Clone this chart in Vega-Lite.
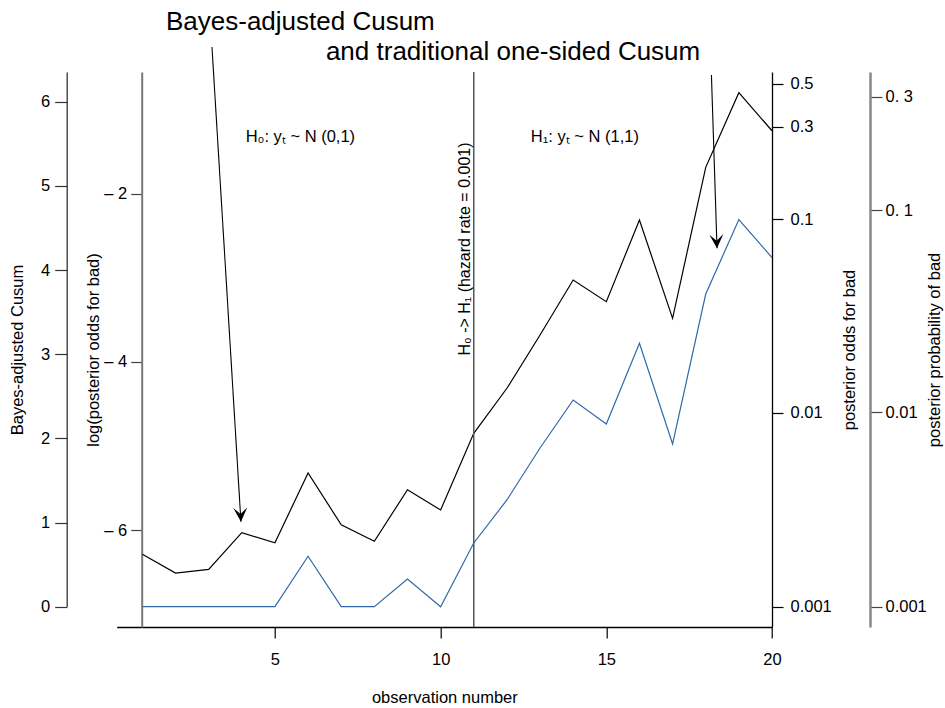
{
  "$schema": "https://vega.github.io/schema/vega-lite/v6.json",
  "width": 655.3,
  "height": 555,
  "autosize": {"type": "none"},
  "padding": {"left": 116.7, "top": 72, "right": 173, "bottom": 81},
  "background": "white",
  "config": {
    "font": "Liberation Sans",
    "view": {"stroke": null},
    "axis": {
      "grid": false,
      "labelFontSize": 16.5,
      "titleFontSize": 16.5,
      "titleFontWeight": "normal",
      "labelColor": "black",
      "titleColor": "black",
      "labelFlush": false,
      "labelOverlap": false,
      "tickWidth": 1.2,
      "domainWidth": 1.3
    }
  },
  "datasets": {
    "lines": [
      {"obs": 1, "series": "bayes", "value": 0.623},
      {"obs": 2, "series": "bayes", "value": 0.400},
      {"obs": 3, "series": "bayes", "value": 0.444},
      {"obs": 4, "series": "bayes", "value": 0.879},
      {"obs": 5, "series": "bayes", "value": 0.760},
      {"obs": 6, "series": "bayes", "value": 1.588},
      {"obs": 7, "series": "bayes", "value": 0.974},
      {"obs": 8, "series": "bayes", "value": 0.777},
      {"obs": 9, "series": "bayes", "value": 1.390},
      {"obs": 10, "series": "bayes", "value": 1.149},
      {"obs": 11, "series": "bayes", "value": 2.060},
      {"obs": 12, "series": "bayes", "value": 2.595},
      {"obs": 13, "series": "bayes", "value": 3.228},
      {"obs": 14, "series": "bayes", "value": 3.881},
      {"obs": 15, "series": "bayes", "value": 3.624},
      {"obs": 16, "series": "bayes", "value": 4.594},
      {"obs": 17, "series": "bayes", "value": 3.426},
      {"obs": 18, "series": "bayes", "value": 5.220},
      {"obs": 19, "series": "bayes", "value": 6.107},
      {"obs": 20, "series": "bayes", "value": 5.655},
      {"obs": 1, "series": "cusum", "value": 0},
      {"obs": 2, "series": "cusum", "value": 0},
      {"obs": 3, "series": "cusum", "value": 0},
      {"obs": 4, "series": "cusum", "value": 0},
      {"obs": 5, "series": "cusum", "value": 0},
      {"obs": 6, "series": "cusum", "value": 0.599},
      {"obs": 7, "series": "cusum", "value": 0},
      {"obs": 8, "series": "cusum", "value": 0},
      {"obs": 9, "series": "cusum", "value": 0.329},
      {"obs": 10, "series": "cusum", "value": 0},
      {"obs": 11, "series": "cusum", "value": 0.757},
      {"obs": 12, "series": "cusum", "value": 1.268},
      {"obs": 13, "series": "cusum", "value": 1.886},
      {"obs": 14, "series": "cusum", "value": 2.456},
      {"obs": 15, "series": "cusum", "value": 2.171},
      {"obs": 16, "series": "cusum", "value": 3.129},
      {"obs": 17, "series": "cusum", "value": 1.933},
      {"obs": 18, "series": "cusum", "value": 3.715},
      {"obs": 19, "series": "cusum", "value": 4.599},
      {"obs": 20, "series": "cusum", "value": 4.148}
    ],
    "arrows": [
      {"x0": 3.100, "y0": 6.650, "x1": 3.974, "y1": 1.010},
      {"x0": 18.172, "y0": 6.317, "x1": 18.341, "y1": 4.258}
    ]
  },
  "layer": [
    {
      "layer": [
        {
          "data": {"name": "lines"},
          "mark": {"type": "line", "strokeWidth": 1.2},
          "encoding": {
            "x": {
              "field": "obs",
              "type": "quantitative",
              "scale": {"domain": [0.2248, 20], "nice": false, "zero": false},
              "axis": {
                "orient": "bottom",
                "values": [5, 10, 15, 20],
                "tickSize": 11,
                "labelPadding": 13,
                "domainColor": "black",
                "tickColor": "black",
                "title": "observation number",
                "titlePadding": 22
              }
            },
            "y": {
              "field": "value",
              "type": "quantitative",
              "scale": {"domain": [0, 6.3529], "range": [534.7, 0], "nice": false, "zero": false},
              "axis": {
                "orient": "left",
                "offset": 50,
                "values": [0, 1, 2, 3, 4, 5, 6],
                "format": "d",
                "tickSize": 12,
                "labelPadding": 5,
                "domainColor": "#333",
                "tickColor": "#333",
                "title": "Bayes-adjusted Cusum",
                "titleAngle": 270,
                "titleAlign": "center",
                "titleBaseline": "alphabetic",
                "titleX": -43.7,
                "titleY": 277.5
              }
            },
            "color": {
              "field": "series",
              "type": "nominal",
              "scale": {"domain": ["bayes", "cusum"], "range": ["#000000", "#2f69aa"]},
              "legend": null
            }
          }
        },
        {
          "data": {"values": [{"obs": 11}]},
          "mark": {"type": "rule", "color": "#555555", "strokeWidth": 1.5},
          "encoding": {"x": {"field": "obs", "type": "quantitative"}}
        },
        {
          "data": {"name": "arrows"},
          "mark": {"type": "rule", "color": "black", "strokeWidth": 1.1},
          "encoding": {
            "x": {"field": "x0", "type": "quantitative"},
            "y": {"field": "y0", "type": "quantitative"},
            "x2": {"field": "x1"},
            "y2": {"field": "y1"}
          }
        },
        {
          "data": {"name": "arrows"},
          "mark": {"type": "point", "shape": "M0,0L-1,-2L0,-1.1L1,-2Z", "size": 196, "filled": true, "color": "black", "opacity": 1, "angle": 357.3},
          "encoding": {
            "x": {"field": "x1", "type": "quantitative"},
            "y": {"field": "y1", "type": "quantitative"}
          }
        },
        {
          "data": {"values": [
            {"x": 1.712, "y": 6.852, "label": "Bayes-adjusted Cusum"},
            {"x": 6.538, "y": 6.495, "label": "and traditional one-sided Cusum"}
          ]},
          "mark": {"type": "text", "fontSize": 26, "align": "left", "baseline": "alphabetic", "color": "black"},
          "encoding": {
            "x": {"field": "x", "type": "quantitative"},
            "y": {"field": "y", "type": "quantitative"},
            "text": {"field": "label"}
          }
        },
        {
          "data": {"values": [
            {"x": 4.116, "y": 5.525, "label": "H₀: yₜ ~ N (0,1)"},
            {"x": 12.722, "y": 5.525, "label": "H₁: yₜ ~ N (1,1)"}
          ]},
          "mark": {"type": "text", "fontSize": 16.5, "align": "left", "baseline": "alphabetic", "color": "black"},
          "encoding": {
            "x": {"field": "x", "type": "quantitative"},
            "y": {"field": "y", "type": "quantitative"},
            "text": {"field": "label"}
          }
        },
        {
          "data": {"values": [
            {"x": 10.882, "y": 4.25, "label": "H₀ -> H₁ (hazard rate = 0.001)"}
          ]},
          "mark": {"type": "text", "fontSize": 16, "align": "center", "baseline": "alphabetic", "angle": 270, "color": "black"},
          "encoding": {
            "x": {"field": "x", "type": "quantitative"},
            "y": {"field": "y", "type": "quantitative"},
            "text": {"field": "label"}
          }
        }
      ]
    },
    {
      "data": {"values": [{"lo": -2}, {"lo": -4}, {"lo": -6}]},
      "mark": {"type": "point", "opacity": 0},
      "encoding": {
        "y": {
          "field": "lo",
          "type": "quantitative",
          "scale": {"domain": [-7.149, -0.5549], "nice": false, "zero": false},
          "axis": {
            "orient": "left",
            "offset": -25,
            "values": [-2, -4, -6],
            "labelExpr": "'– ' + abs(datum.value)",
            "tickSize": 11,
            "labelPadding": 4,
            "domainColor": "#777",
            "domainWidth": 2,
            "tickColor": "#444",
            "title": "log(posterior odds for bad)",
            "titlePadding": 2
          }
        }
      }
    },
    {
      "data": {"values": [{"odds": 0.001}, {"odds": 0.01}, {"odds": 0.1}, {"odds": 0.3}, {"odds": 0.5}]},
      "mark": {"type": "point", "opacity": 0},
      "encoding": {
        "y": {
          "field": "odds",
          "type": "quantitative",
          "scale": {"type": "log", "domain": [0.000786, 0.5737], "nice": false},
          "axis": {
            "orient": "right",
            "offset": 0,
            "values": [0.001, 0.01, 0.1, 0.3, 0.5],
            "labelExpr": "'' + datum.value",
            "tickSize": 11,
            "labelPadding": 7,
            "domainColor": "black",
            "tickColor": "black",
            "title": "posterior odds for bad",
            "titleAngle": 270,
            "titleBaseline": "top",
            "titlePadding": 10
          }
        }
      }
    },
    {
      "data": {"values": [{"p": 0.001}, {"p": 0.01}, {"p": 0.1}, {"p": 0.3}]},
      "mark": {"type": "point", "opacity": 0},
      "encoding": {
        "y": {
          "field": "p",
          "type": "quantitative",
          "scale": {"type": "log", "domain": [0.000786, 0.5737], "nice": false},
          "axis": {
            "orient": "right",
            "offset": 98,
            "values": [0.001001, 0.010101, 0.111111, 0.428571],
            "labelExpr": "datum.value < 0.005 ? '0.001' : datum.value < 0.05 ? '0.01' : datum.value < 0.2 ? '0. 1' : '0. 3'",
            "tickSize": 12,
            "labelPadding": 3,
            "domainColor": "#888",
            "domainWidth": 2.5,
            "tickColor": "#444",
            "title": "posterior probability of bad",
            "titleAngle": 270,
            "titleBaseline": "top",
            "titlePadding": 0
          }
        }
      }
    }
  ],
  "resolve": {"scale": {"y": "independent"}}
}
